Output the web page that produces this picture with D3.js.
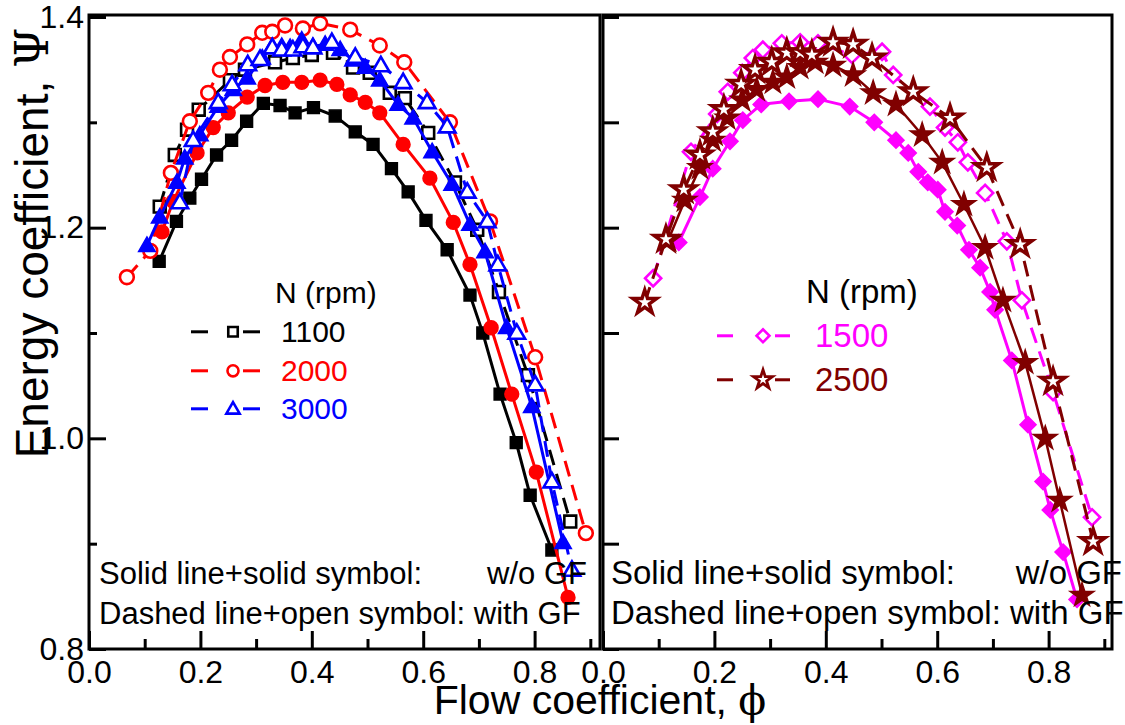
<!DOCTYPE html>
<html lang="en">

<head>
    <meta charset="utf-8">
    <title>Energy vs flow coefficient</title>
    <script type="text/javascript" src="https://d3js.org/d3.v7.min.js"></script>
    <style>
        body {
            margin: 0;
            background: white;
        }

        svg text {
            font-family: "Liberation Sans", Arial, sans-serif;
        }

        .greek {
            font-family: "DejaVu Serif", "Liberation Serif", serif;
        }
    </style>
</head>

<body>
    <div id="chart"></div>
    <script type="text/javascript">
        const width = 1125;
        const height = 725;

        // tick values
        const xMajor = [0.0, 0.2, 0.4, 0.6, 0.8];
        const xMinor = [0.1, 0.3, 0.5, 0.7, 0.9];
        const yMajor = [0.8, 1.0, 1.2, 1.4];
        const yMinor = [0.9, 1.1, 1.3];
        const yAll = [0.8, 0.9, 1.0, 1.1, 1.2, 1.3, 1.4];

        // left panel: [phi, psi]
        const n1100Without = [[0.126, 1.168], [0.157, 1.206], [0.181, 1.228], [0.202, 1.246], [0.229, 1.269], [0.256, 1.283],
        [0.283, 1.301], [0.313, 1.318], [0.343, 1.316], [0.370, 1.309], [0.403, 1.314], [0.442, 1.306], [0.478, 1.291],
        [0.510, 1.279], [0.543, 1.256], [0.573, 1.234], [0.605, 1.207], [0.643, 1.179], [0.684, 1.136], [0.707, 1.100],
        [0.738, 1.042], [0.767, 0.996], [0.792, 0.946], [0.831, 0.894]];
        const n1100With = [[0.127, 1.220], [0.154, 1.269], [0.176, 1.293], [0.197, 1.312], [0.253, 1.340], [0.280, 1.350],
        [0.334, 1.357], [0.366, 1.361], [0.400, 1.364], [0.438, 1.366], [0.474, 1.352], [0.504, 1.347], [0.540, 1.328],
        [0.567, 1.323], [0.609, 1.290], [0.657, 1.243], [0.697, 1.198], [0.736, 1.139], [0.788, 1.060], [0.864, 0.921]];
        const n2000Without = [[0.131, 1.196], [0.151, 1.225], [0.194, 1.271], [0.223, 1.295], [0.250, 1.309], [0.284, 1.324],
        [0.316, 1.335], [0.348, 1.338], [0.382, 1.338], [0.415, 1.340], [0.445, 1.336], [0.469, 1.326], [0.496, 1.319],
        [0.522, 1.309], [0.564, 1.279], [0.612, 1.247], [0.654, 1.205], [0.684, 1.165], [0.722, 1.105], [0.759, 1.042],
        [0.803, 0.968], [0.860, 0.849]];
        const n2000With = [[0.068, 1.153], [0.110, 1.178], [0.147, 1.252], [0.181, 1.301], [0.214, 1.328], [0.235, 1.350],
        [0.253, 1.362], [0.284, 1.374], [0.311, 1.385], [0.329, 1.386], [0.352, 1.392], [0.384, 1.389], [0.415, 1.394],
        [0.469, 1.388], [0.522, 1.373], [0.566, 1.357], [0.648, 1.300], [0.720, 1.206], [0.801, 1.077], [0.892, 0.910]];
        const n3000Without = [[0.104, 1.183], [0.127, 1.210], [0.158, 1.243], [0.172, 1.266], [0.199, 1.288], [0.232, 1.315],
        [0.259, 1.331], [0.284, 1.342], [0.311, 1.361], [0.329, 1.372], [0.346, 1.372], [0.361, 1.371], [0.382, 1.378],
        [0.402, 1.372], [0.424, 1.374], [0.451, 1.369], [0.474, 1.359], [0.496, 1.352], [0.522, 1.340], [0.555, 1.317],
        [0.582, 1.304], [0.616, 1.272], [0.652, 1.241], [0.684, 1.203], [0.711, 1.177], [0.750, 1.105], [0.795, 1.030],
        [0.851, 0.901]];
        const n3000With = [[0.163, 1.224], [0.187, 1.283], [0.232, 1.319], [0.257, 1.336], [0.285, 1.355], [0.307, 1.360],
        [0.329, 1.371], [0.346, 1.369], [0.366, 1.369], [0.384, 1.372], [0.402, 1.371], [0.436, 1.376], [0.478, 1.362],
        [0.524, 1.354], [0.564, 1.338], [0.607, 1.319], [0.643, 1.296], [0.679, 1.234], [0.715, 1.206], [0.734, 1.165],
        [0.768, 1.100], [0.801, 1.051], [0.831, 0.959], [0.867, 0.875]];

        // right panel: [phi, psi]
        const n1500Without = [[0.136, 1.186], [0.174, 1.229], [0.197, 1.256], [0.228, 1.282], [0.251, 1.302], [0.284, 1.317],
        [0.334, 1.320], [0.386, 1.322], [0.443, 1.315], [0.487, 1.300], [0.526, 1.283], [0.548, 1.271], [0.566, 1.253],
        [0.583, 1.243], [0.601, 1.236], [0.614, 1.215], [0.636, 1.202], [0.657, 1.179], [0.677, 1.162], [0.695, 1.139],
        [0.704, 1.122], [0.734, 1.074], [0.763, 1.013], [0.790, 0.959], [0.803, 0.932], [0.826, 0.892], [0.851, 0.847]];
        const n1500With = [[0.090, 1.152], [0.158, 1.272], [0.205, 1.308], [0.224, 1.329], [0.250, 1.347], [0.269, 1.361],
        [0.287, 1.369], [0.321, 1.375], [0.354, 1.376], [0.386, 1.375], [0.447, 1.364], [0.501, 1.367], [0.521, 1.345],
        [0.587, 1.315], [0.614, 1.295], [0.637, 1.281], [0.655, 1.262], [0.686, 1.233], [0.725, 1.187], [0.752, 1.131],
        [0.808, 1.044], [0.878, 0.925]];
        const n2500Without = [[0.117, 1.188], [0.147, 1.226], [0.174, 1.257], [0.197, 1.283], [0.223, 1.304], [0.250, 1.321],
        [0.276, 1.331], [0.305, 1.338], [0.330, 1.343], [0.354, 1.352], [0.381, 1.357], [0.413, 1.354], [0.449, 1.345],
        [0.485, 1.328], [0.526, 1.317], [0.573, 1.288], [0.609, 1.262], [0.648, 1.222], [0.686, 1.181], [0.718, 1.131],
        [0.758, 1.072], [0.794, 1.000], [0.820, 0.941], [0.860, 0.851]];
        const n2500With = [[0.075, 1.129], [0.113, 1.189], [0.145, 1.236], [0.174, 1.269], [0.197, 1.291], [0.217, 1.312],
        [0.248, 1.336], [0.273, 1.350], [0.303, 1.357], [0.330, 1.366], [0.354, 1.366], [0.375, 1.364], [0.413, 1.376],
        [0.449, 1.374], [0.483, 1.361], [0.557, 1.329], [0.623, 1.304], [0.689, 1.257], [0.749, 1.184], [0.808, 1.054],
        [0.880, 0.902]];

        const leftSeries = [
            { data: n1100Without, color: "#000000", shape: "square", open: false },
            { data: n1100With, color: "#000000", shape: "square", open: true },
            { data: n2000Without, color: "#ff0000", shape: "circle", open: false },
            { data: n2000With, color: "#ff0000", shape: "circle", open: true },
            { data: n3000Without, color: "#0000ff", shape: "triangle", open: false },
            { data: n3000With, color: "#0000ff", shape: "triangle", open: true }
        ];
        const rightSeries = [
            { data: n1500Without, color: "#ff00ff", shape: "diamond", open: false },
            { data: n1500With, color: "#ff00ff", shape: "diamond", open: true },
            { data: n2500Without, color: "#800000", shape: "star", open: false },
            { data: n2500With, color: "#800000", shape: "star", open: true }
        ];

        const svg = d3.select("#chart")
            .append("svg")
            .attr("width", width)
            .attr("height", height)
            .attr("viewBox", [0, 0, width, height]);

        const y = d3.scaleLinear().domain([0.8, 1.4]).range([649, 17]);
        const xLeft = d3.scaleLinear().domain([0, 0.9174]).range([89, 600]);
        const xRight = d3.scaleLinear().domain([0, 0.9138]).range([603, 1112]);

        // marker shapes, scale factor k for legend
        function markerPath(shape, k) {
            if (shape === "square") return d3.symbol(d3.symbolSquare, 140 * k * k)();
            if (shape === "circle") return d3.symbol(d3.symbolCircle, 150 * k * k)();
            if (shape === "triangle") return d3.symbol(d3.symbolTriangle, 120 * k * k)();
            if (shape === "diamond") return d3.symbol(d3.symbolSquare, 130 * k * k)();
            return d3.symbol(d3.symbolStar, 175 * k * k)();
        }

        function drawMarker(g, shape, open, color, cx, cy, k) {
            g.append("path")
                .attr("d", markerPath(shape, k))
                .attr("transform", `translate(${cx},${cy})` + (shape === "diamond" ? " rotate(45)" : "") + (shape === "triangle" ? " translate(0,1)" : ""))
                .attr("fill", open ? "white" : color)
                .attr("stroke", color)
                .attr("stroke-width", open ? (shape === "star" ? 3.5 * k : 2.6) : 1.5)
                .attr("stroke-linejoin", "miter");
        }

        function plotSeries(g, x, series) {
            const line = d3.line().x(d => x(d[0])).y(d => y(d[1]));
            series.forEach(s => {
                g.append("path")
                    .datum(s.data)
                    .attr("fill", "none")
                    .attr("stroke", s.color)
                    .attr("stroke-width", s.shape === "star" && !s.open ? 2.5 : 3)
                    .attr("stroke-dasharray", s.open ? "16,9" : null)
                    .attr("d", line);
                s.data.forEach(d => drawMarker(g, s.shape, s.open, s.color, x(d[0]), y(d[1]), 1));
            });
        }

        function drawAxes(x, showYLabels, yTickLen) {
            const g = svg.append("g");
            // x ticks (inward)
            g.append("g")
                .attr("transform", `translate(0,${y(0.8)})`)
                .call(d3.axisBottom(x).tickValues(xMajor).tickSizeInner(-18).tickSizeOuter(0)
                    .tickPadding(11).tickFormat(d3.format(".1f")));
            g.append("g")
                .attr("transform", `translate(0,${y(0.8)})`)
                .call(d3.axisBottom(x).tickValues(xMinor.filter(v => x(v) < x.range()[1] - 2))
                    .tickSizeInner(-10).tickSizeOuter(0).tickFormat(""));
            // y ticks (inward)
            if (showYLabels) {
                g.append("g")
                    .attr("transform", `translate(${x(0)},0)`)
                    .call(d3.axisLeft(y).tickValues(yMajor).tickSizeInner(-yTickLen).tickSizeOuter(0)
                        .tickPadding(5).tickFormat(d3.format(".1f")));
                g.append("g")
                    .attr("transform", `translate(${x(0)},0)`)
                    .call(d3.axisLeft(y).tickValues(yMinor).tickSizeInner(-8).tickSizeOuter(0).tickFormat(""));
            } else {
                g.append("g")
                    .attr("transform", `translate(${x(0)},0)`)
                    .call(d3.axisLeft(y).tickValues(yAll).tickSizeInner(-yTickLen).tickSizeOuter(0).tickFormat(""));
            }
            g.selectAll(".domain").remove();
            g.selectAll(".tick line").attr("stroke", "black").attr("stroke-width", 3);
            g.selectAll(".tick text")
                .attr("fill", "black")
                .style("font-size", "32px");
            // frame
            g.append("rect")
                .attr("x", x.range()[0])
                .attr("y", 15)
                .attr("width", x.range()[1] - x.range()[0])
                .attr("height", y(0.8) - 15)
                .attr("fill", "none")
                .attr("stroke", "black")
                .attr("stroke-width", 3);
        }

        function legend(items, x0, titleY, rowYs, fontSize, seg) {
            const g = svg.append("g");
            g.append("text")
                .attr("x", seg.title)
                .attr("y", titleY)
                .style("font-size", fontSize + "px")
                .text("N (rpm)");
            items.forEach((it, i) => {
                const cy = rowYs[i] - fontSize * 0.34;
                g.append("line")
                    .attr("x1", seg.a0).attr("x2", seg.a1)
                    .attr("y1", cy).attr("y2", cy)
                    .attr("stroke", it.color).attr("stroke-width", 3);
                g.append("line")
                    .attr("x1", seg.b0).attr("x2", seg.b1)
                    .attr("y1", cy).attr("y2", cy)
                    .attr("stroke", it.color).attr("stroke-width", 3);
                drawMarker(g, it.shape, true, it.color, seg.m, cy, 0.8);
                g.append("text")
                    .attr("x", x0)
                    .attr("y", rowYs[i])
                    .attr("fill", it.color)
                    .style("font-size", fontSize + "px")
                    .text(it.label);
            });
        }

        function note(x0, xEnd, fontSize) {
            const g = svg.append("g").style("font-size", fontSize + "px");
            g.append("text").attr("x", x0).attr("y", 584).text("Solid line+solid symbol:");
            g.append("text").attr("x", xEnd).attr("y", 584).attr("text-anchor", "end").text("w/o GF");
            g.append("text").attr("x", x0).attr("y", 624).text("Dashed line+open symbol: with GF");
        }

        // left panel
        const gLeft = svg.append("g");
        plotSeries(gLeft, xLeft, leftSeries);
        drawAxes(xLeft, true, 17);
        legend([
            { label: "1100", color: "#000000", shape: "square" },
            { label: "2000", color: "#ff0000", shape: "circle" },
            { label: "3000", color: "#0000ff", shape: "triangle" }
        ], 281, 303, [342, 381, 419], 30, { title: 275, a0: 191, a1: 208, m: 233, b0: 243, b1: 260 });
        note(99, 587, 31);

        // right panel
        const gRight = svg.append("g");
        plotSeries(gRight, xRight, rightSeries);
        drawAxes(xRight, false, 16);
        legend([
            { label: "1500", color: "#ff00ff", shape: "diamond" },
            { label: "2500", color: "#800000", shape: "star" }
        ], 815, 303, [347, 391], 33, { title: 806, a0: 717, a1: 733, m: 763, b0: 775, b1: 790 });
        note(611, 1122, 33);

        // axis titles
        svg.append("text")
            .attr("transform", "translate(48,243) rotate(-90)")
            .attr("text-anchor", "middle")
            .style("font-size", "46px")
            .text("Energy coefficient, ")
            .append("tspan")
            .attr("class", "greek")
            .text("\u03A8");

        svg.append("text")
            .attr("x", 600)
            .attr("y", 714)
            .attr("text-anchor", "middle")
            .style("font-size", "41px")
            .text("Flow coefficient, ")
            .append("tspan")
            .attr("class", "greek")
            .text("\u03D5");
    </script>
</body>

</html>
